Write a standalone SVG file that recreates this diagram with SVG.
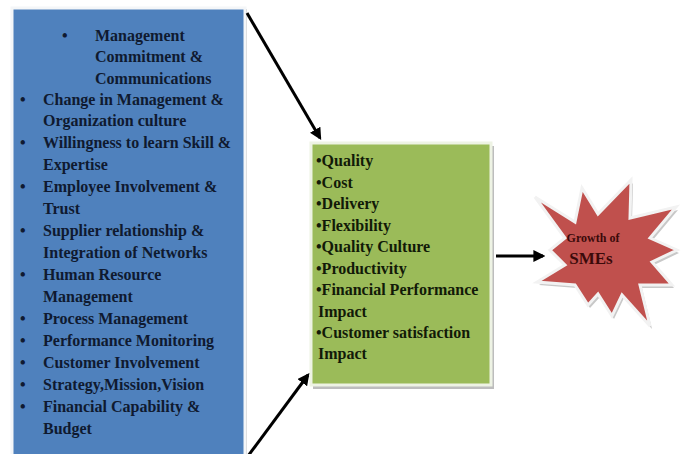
<svg xmlns="http://www.w3.org/2000/svg" width="684" height="454" viewBox="0 0 684 454">
<style>
.t{font-family:"Liberation Serif","Times New Roman",serif;font-weight:bold;font-size:16px;fill:#0f1a30}
.g{font-family:"Liberation Serif","Times New Roman",serif;font-weight:bold;font-size:16px;fill:#121a08}
.s{font-family:"Liberation Serif","Times New Roman",serif;font-weight:bold;fill:#3a0a0a}
.ln{stroke:#000;stroke-width:3;fill:none}
</style>
<defs>
<marker id="ah" viewBox="0 0 10 10" refX="8" refY="5" markerWidth="4" markerHeight="4" orient="auto" markerUnits="strokeWidth">
<path d="M0,0 L10,5 L0,10 z" fill="#000"/>
</marker>
</defs>
<rect width="684" height="454" fill="#fff"/>
<g id="factors">
<rect x="13" y="9" width="234" height="460" fill="#c8c8c8"/>
<rect x="12" y="8" width="233" height="460" fill="#4f81bd" stroke="#f4f6f8" stroke-width="3"/>
<text class="t" x="62" y="41">•</text>
<text class="t" x="95" y="41">Management</text>
<text class="t" x="95" y="62">Commitment &amp;</text>
<text class="t" x="95" y="84">Communications</text>
<text class="t" x="20" y="105">•</text><text class="t" x="43" y="105">Change in Management &amp;</text>
<text class="t" x="43" y="126">Organization culture</text>
<text class="t" x="20" y="148">•</text><text class="t" x="43" y="148">Willingness to learn Skill &amp;</text>
<text class="t" x="43" y="170">Expertise</text>
<text class="t" x="20" y="192">•</text><text class="t" x="43" y="192">Employee Involvement &amp;</text>
<text class="t" x="43" y="214">Trust</text>
<text class="t" x="20" y="236">•</text><text class="t" x="43" y="236">Supplier relationship &amp;</text>
<text class="t" x="43" y="258">Integration of Networks</text>
<text class="t" x="20" y="280">•</text><text class="t" x="43" y="280">Human Resource</text>
<text class="t" x="43" y="302">Management</text>
<text class="t" x="20" y="324">•</text><text class="t" x="43" y="324">Process Management</text>
<text class="t" x="20" y="346">•</text><text class="t" x="43" y="346">Performance Monitoring</text>
<text class="t" x="20" y="368">•</text><text class="t" x="43" y="368">Customer Involvement</text>
<text class="t" x="20" y="390">•</text><text class="t" x="43" y="390">Strategy,Mission,Vision</text>
<text class="t" x="20" y="412">•</text><text class="t" x="43" y="412">Financial Capability &amp;</text>
<text class="t" x="43" y="434">Budget</text>
</g>
<g id="outcomes">
<rect x="313" y="146" width="181" height="243" fill="#bdbdbd"/>
<rect x="311" y="143" width="180" height="242" fill="#9bbb59" stroke="#eef3e4" stroke-width="3"/>
<text class="g" x="316" y="166">•Quality</text>
<text class="g" x="316" y="188">•Cost</text>
<text class="g" x="316" y="209">•Delivery</text>
<text class="g" x="316" y="231">•Flexibility</text>
<text class="g" x="316" y="252">•Quality Culture</text>
<text class="g" x="316" y="274">•Productivity</text>
<text class="g" x="316" y="295">•Financial Performance</text>
<text class="g" x="318" y="317">Impact</text>
<text class="g" x="316" y="338">•Customer satisfaction</text>
<text class="g" x="318" y="359">Impact</text>
</g>
<g id="growth">
<polygon transform="translate(2,3)" fill="#c8c8c8" points="535,197 575,222 582,188 598,214 631,180 630,218 676,207 650,238 677,250 652,262 672,285 640,285 650,326 622,295 612,316 598,294 588,305 575,285 537,282 565,265 550,250 565,238"/>
<polygon fill="#c0504d" stroke="#f2f2f2" stroke-width="3" stroke-linejoin="miter" points="535,197 575,222 582,188 598,214 631,180 630,218 676,207 650,238 677,250 652,262 672,285 640,285 650,326 622,295 612,316 598,294 588,305 575,285 537,282 565,265 550,250 565,238"/>
<text class="s" x="593" y="242" font-size="12" text-anchor="middle">Growth of</text>
<text class="s" x="591" y="264" font-size="17" text-anchor="middle">SMEs</text>
</g>
<g id="connectors">
<line class="ln" x1="247" y1="13" x2="320" y2="138" marker-end="url(#ah)"/>
<line class="ln" x1="248" y1="456" x2="308" y2="375" marker-end="url(#ah)"/>
<line class="ln" x1="496" y1="256" x2="543" y2="256" marker-end="url(#ah)"/>
</g>
</svg>
